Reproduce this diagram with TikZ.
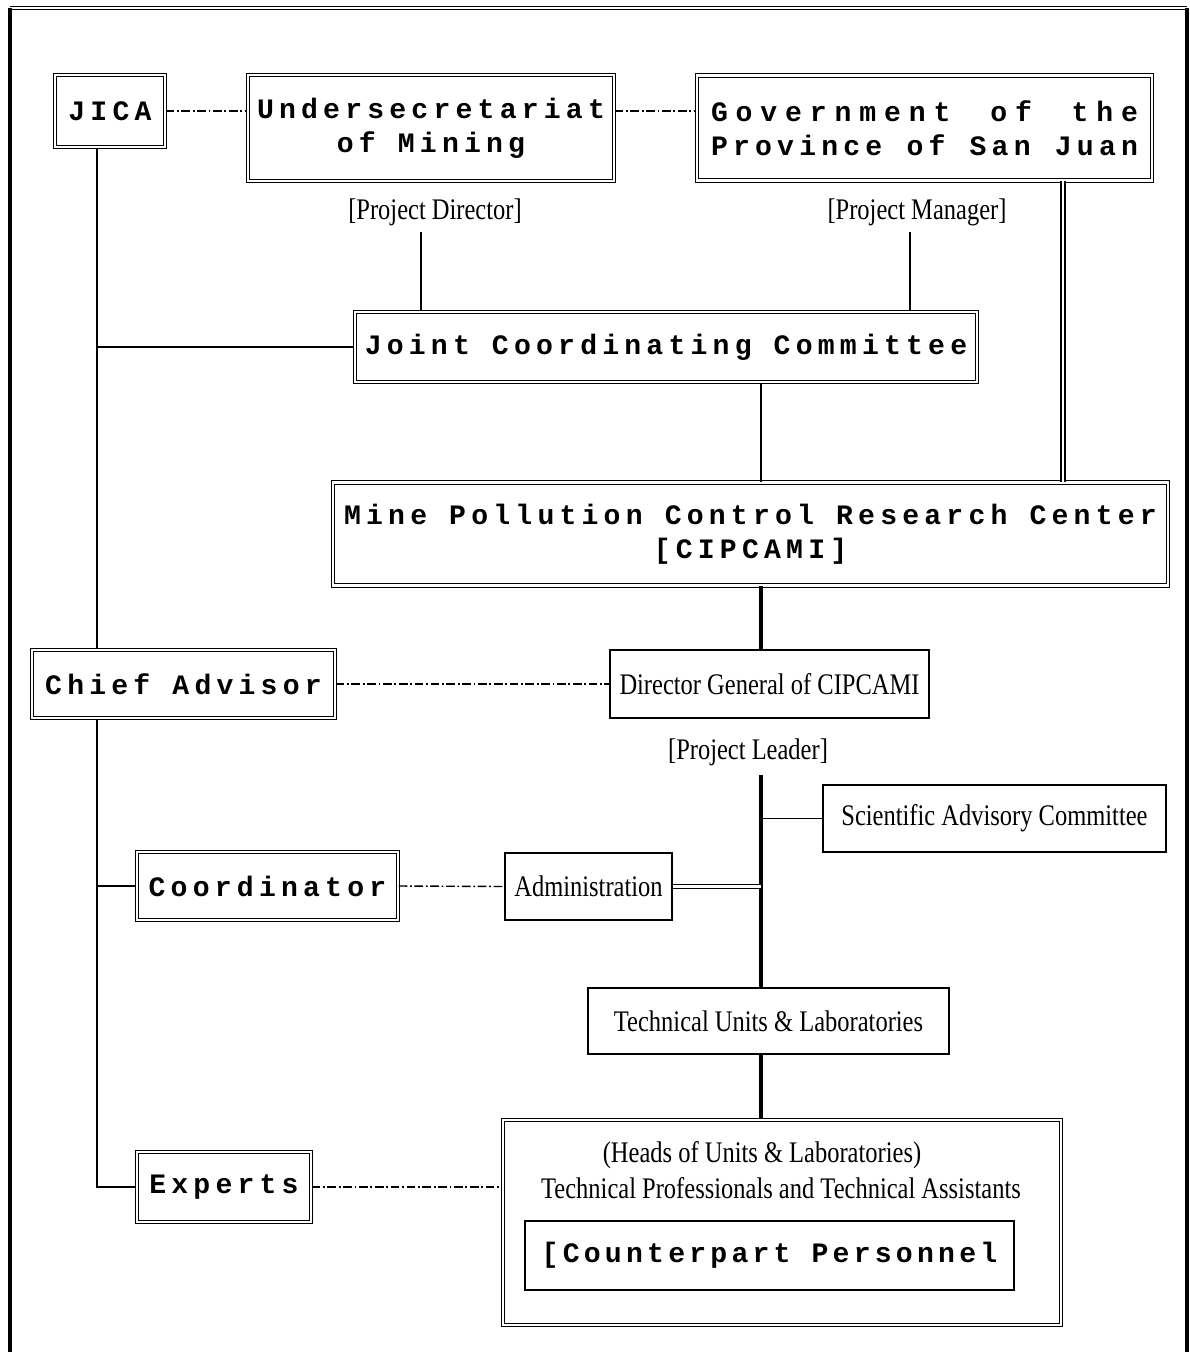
\documentclass[tikz,border=0pt]{standalone}
\usepackage{fontspec}
\setmainfont{Liberation Serif}
\newfontfamily\monofnt[LetterSpace=18.5]{Liberation Mono Bold}
\newfontfamily\monocp[LetterSpace=15]{Liberation Mono Bold}
\newfontfamily\monowide[LetterSpace=28]{Liberation Mono Bold}
\newfontfamily\narrowfnt[FakeStretch=0.82]{Liberation Serif}
\usetikzlibrary{calc}
\begin{document}
\begin{tikzpicture}[x=0.2mm,y=-0.2mm,
  bigtxt/.style={font=\monofnt\fontsize{16}{19.3}\selectfont},
  smalltxt/.style={font=\narrowfnt\fontsize{17}{18.7}\selectfont},
  dbox/.style={draw, line width=0.7pt, double=white, double distance=1.3pt, inner sep=0pt, align=center, bigtxt},
  sbox/.style={draw, line width=0.8pt, inner sep=0pt, align=center, smalltxt},
  lbl/.style={inner sep=0pt, smalltxt},
  conn/.style={line width=1pt},
  thickconn/.style={line width=2.2pt},
  dblconn/.style={line width=0.8pt, double=white, double distance=1.2pt},
  dblthick/.style={line width=1.2pt, double=white, double distance=0.7pt},
  dashdot/.style={line width=0.8pt, dash pattern=on 5pt off 1.5pt on 1pt off 1.5pt},
]
\useasboundingbox (0,0) rectangle (1190,1352);
% outer frame
\draw[line width=1pt, double=white, double distance=0.8pt] (10,8) -- (1187,8);
\draw[line width=2.6pt] (10,1360) -- (10,8);
\draw[line width=2.2pt] (1187,8) -- (1187,1360);

% boxes
\node[dbox, minimum width=110*0.2mm, minimum height=72*0.2mm] (jica) at (110,111) {JICA};
\node[dbox, minimum width=366*0.2mm, minimum height=106*0.2mm] (under) at (431,128) {Undersecretariat\\of Mining};
\node[dbox, minimum width=455*0.2mm, minimum height=105*0.2mm] (gov) at (924.5,128)
  {\makebox[85.4mm][s]{\monowide Government\hfill of\hfill the}\\\makebox[85.4mm][s]{Province of San Juan}};
\node[dbox, minimum width=622*0.2mm, minimum height=70*0.2mm] (jcc) at (666,347) {Joint Coordinating Committee};
\node[dbox, minimum width=835*0.2mm, minimum height=103*0.2mm] (cip) at (750.5,534) {Mine Pollution Control Research Center\\{}[CIPCAMI]};
\node[dbox, minimum width=303*0.2mm, minimum height=68*0.2mm] (chief) at (183.5,684) {Chief Advisor};
\node[sbox, minimum width=319*0.2mm, minimum height=68*0.2mm] (dg) at (769.5,684) {Director General of CIPCAMI};
\node[sbox, minimum width=343*0.2mm, minimum height=67*0.2mm] (sac) at (994.5,818.5) {Scientific Advisory Committee};
\node[sbox, minimum width=167*0.2mm, minimum height=67*0.2mm] (admin) at (588.5,886.5) {Administration};
\node[dbox, minimum width=261*0.2mm, minimum height=68*0.2mm] (coord) at (267.5,886) {Coordinator};
\node[sbox, minimum width=361*0.2mm, minimum height=66*0.2mm] (tech) at (768.5,1021) {Technical Units \& Laboratories};
\node[dbox, minimum width=558*0.2mm, minimum height=205*0.2mm] (bottom) at (782,1222.5) {};
\node[lbl] (heads) at (762,1155) {(Heads of Units \& Laboratories)};
\node[lbl] (techprof) at (781,1188) {Technical Professionals and Technical Assistants};
\node[sbox, font=\monocp\fontsize{16}{19.3}\selectfont, minimum width=489*0.2mm, minimum height=69*0.2mm] (cp) at (769.5,1255.5) {[Counterpart Personnel};
\node[dbox, minimum width=174*0.2mm, minimum height=70*0.2mm] (experts) at (224,1187) {Experts};

% labels
\node[lbl] (pd) at (435,212) {[Project Director]};
\node[lbl] (pm) at (917,212) {[Project Manager]};
\node[lbl] (pl) at (748,752) {[Project Leader]};

% reference coordinates
\coordinate (lx) at (97,0);
\coordinate (mx) at (761,0);
\coordinate (gx) at (1063,0);
\coordinate (pdx) at (421,232);
\coordinate (pmx) at (910,232);
\coordinate (pltop) at (761,775);

% connectors
\draw[dashdot] (jica.east) -- (jica.east -| under.west);
\draw[dashdot] (jica.east -| under.east) -- (jica.east -| gov.west);
\draw[conn] (pdx) -- (pdx |- jcc.north);
\draw[conn] (pmx) -- (pmx |- jcc.north);
\draw[conn] (jica.south -| lx) -- (chief.north -| lx);
\draw[conn] (lx |- jcc.west) -- (jcc.west);
\draw[dblthick] (gov.south -| gx) -- (cip.north -| gx);
\draw[conn] (jcc.south -| mx) -- (cip.north -| mx);
\draw[thickconn] (cip.south -| mx) -- (dg.north -| mx);
\draw[dashdot] (chief.east) -- (dg.west);
\draw[thickconn] (pltop) -- (tech.north -| mx);
\draw[conn] (sac.west -| mx) -- (sac.west);
\draw[dblconn] (admin.east) -- (admin.east -| mx);
\draw[dashdot] (coord.east) -- (admin.west);
\draw[conn] (chief.south -| lx) -- (experts.west -| lx) -- (experts.west);
\draw[conn] (lx |- coord.west) -- (coord.west);
\draw[thickconn] (tech.south -| mx) -- (bottom.north -| mx);
\draw[dashdot] (experts.east) -- (experts.east -| bottom.west);
\end{tikzpicture}
\end{document}
